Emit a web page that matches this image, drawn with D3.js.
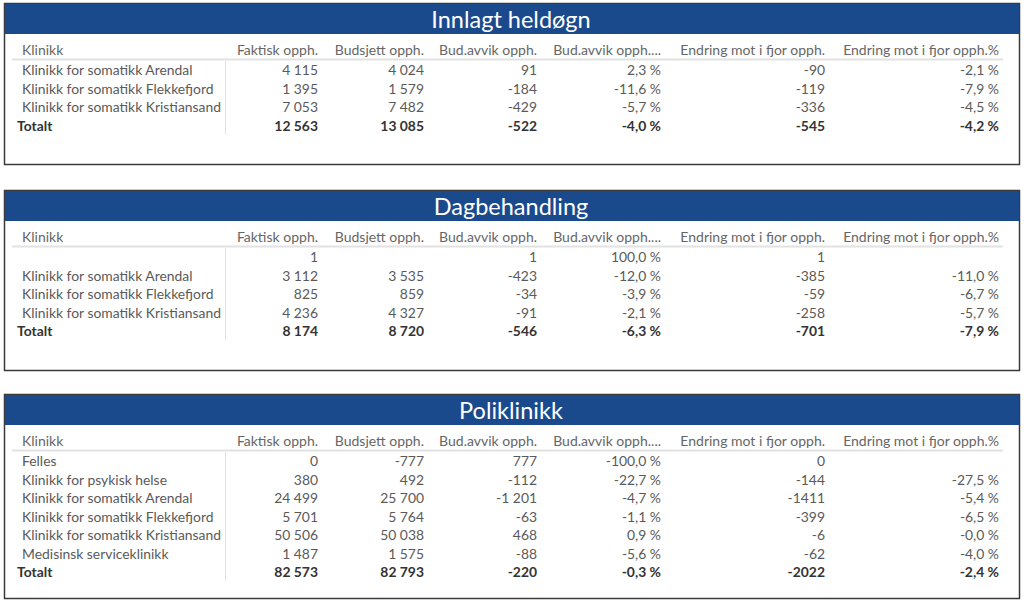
<!DOCTYPE html>
<html>
<head>
<meta charset="utf-8">
<script src="https://cdn.jsdelivr.net/npm/d3@7"></script>
<style>
  body { margin: 0; background: #fff; }
  svg text { font-family: "Segoe UI", Lato, "Noto Sans", sans-serif; }
</style>
</head>
<body>
<div id="viz"></div>
<script>
(function() {

    // Column headers, shared by all three tables
    var columns = ["Klinikk", "Faktisk opph.", "Budsjett opph.", "Bud.avvik opph.",
        "Bud.avvik opph....", "Endring mot i fjor opph.", "Endring mot i fjor opph.%"];

    var panelTitles = ["Innlagt heldøgn", "Dagbehandling", "Poliklinikk"];

    // Innlagt heldøgn
    var names1 = ["Klinikk for somatikk Arendal", "Klinikk for somatikk Flekkefjord", "Klinikk for somatikk Kristiansand", "Totalt"];
    var faktisk1 = [4115, 1395, 7053, 12563];
    var budsjett1 = [4024, 1579, 7482, 13085];
    var avvik1 = [91, -184, -429, -522];
    var avvikPct1 = [2.3, -11.6, -5.7, -4.0];
    var endring1 = [-90, -119, -336, -545];
    var endringPct1 = [-2.1, -7.9, -4.5, -4.2];

    // Dagbehandling
    var names2 = ["", "Klinikk for somatikk Arendal", "Klinikk for somatikk Flekkefjord", "Klinikk for somatikk Kristiansand", "Totalt"];
    var faktisk2 = [1, 3112, 825, 4236, 8174];
    var budsjett2 = [null, 3535, 859, 4327, 8720];
    var avvik2 = [1, -423, -34, -91, -546];
    var avvikPct2 = [100.0, -12.0, -3.9, -2.1, -6.3];
    var endring2 = [1, -385, -59, -258, -701];
    var endringPct2 = [null, -11.0, -6.7, -5.7, -7.9];

    // Poliklinikk
    var names3 = ["Felles", "Klinikk for psykisk helse", "Klinikk for somatikk Arendal", "Klinikk for somatikk Flekkefjord",
        "Klinikk for somatikk Kristiansand", "Medisinsk serviceklinikk", "Totalt"];
    var faktisk3 = [0, 380, 24499, 5701, 50506, 1487, 82573];
    var budsjett3 = [-777, 492, 25700, 5764, 50038, 1575, 82793];
    var avvik3 = [777, -112, -1201, -63, 468, -88, -220];
    var avvikPct3 = [-100.0, -22.7, -4.7, -1.1, 0.9, -5.6, -0.3];
    var endring3 = [0, -144, -1411, -399, -6, -62, -2022];
    var endringPct3 = [null, -27.5, -5.4, -6.5, -0.0, -4.0, -2.4];

    var tables = [
        [names1, faktisk1, budsjett1, avvik1, avvikPct1, endring1, endringPct1],
        [names2, faktisk2, budsjett2, avvik2, avvikPct2, endring2, endringPct2],
        [names3, faktisk3, budsjett3, avvik3, avvikPct3, endring3, endringPct3]
    ];

    var width = 1024;
    var height = 601;

    // Norwegian number style
    var locale = d3.formatLocale({decimal: ",", thousands: "\u00a0", grouping: [3], currency: ["", ""], minus: "-"});
    var fmtInt = locale.format(",d");
    var fmtPlain = locale.format("d");
    var fmtPct = locale.format(".1f");
    //keep the minus on -0,0 %
    function pct(v) {
        var neg = v < 0 || Object.is(v, -0);
        return (neg ? "-" : "") + fmtPct(Math.abs(v)) + " %";
    }
    var formatters = [null, fmtInt, fmtInt, fmtInt, pct, fmtPlain, pct];

    var panelTop = [3, 190, 394];
    var panelBottom = [164, 370, 598];

    // right edge of each numeric column
    var xCol = d3.scaleOrdinal()
        .domain(columns)
        .range([22, 318, 424, 537, 661, 825, 999]);

    var svg = d3.select("#viz")
        .append("svg")
        .attr("width", width)
        .attr("height", height);

    tables.forEach(function(table, p) {
        var top = panelTop[p];
        var g = svg.append("g").attr("transform", "translate(0," + top + ")");
        var nRows = table[0].length;

        // rows placed with a linear scale
        var yRow = d3.scaleLinear().domain([0, 1]).range([72, 90.5]);

        g.append("rect")
            .attr("x", 4.5).attr("y", 0.5)
            .attr("width", 1015).attr("height", panelBottom[p] - top)
            .attr("fill", "#fff")
            .attr("stroke", "#3a3a3a")
            .attr("stroke-width", 1.5);

        g.append("rect")
            .attr("x", 5).attr("y", 1)
            .attr("width", 1014).attr("height", 30)
            .attr("fill", "#1b4a8c");

        g.append("text")
            .attr("x", 511).attr("y", 24.5)
            .attr("text-anchor", "middle")
            .attr("fill", "#fff")
            .attr("font-size", "23.5px")
            .text(panelTitles[p]);

        // column headers
        g.selectAll(".colhead")
            .data(columns)
            .enter().append("text")
            .attr("class", "colhead")
            .attr("x", function(d) { return xCol(d); })
            .attr("y", 52)
            .attr("text-anchor", function(d, i) { return i === 0 ? "start" : "end"; })
            .attr("fill", "#666")
            .attr("font-size", "14px")
            .text(function(d) { return d; });

        g.append("line")
            .attr("x1", 12).attr("x2", 1003)
            .attr("y1", 56.5).attr("y2", 56.5)
            .attr("stroke", "#e2e2e2")
            .attr("stroke-width", 2);

        g.append("line")
            .attr("x1", 225.5).attr("x2", 225.5)
            .attr("y1", 58).attr("y2", yRow(nRows - 1) + 4)
            .attr("stroke", "#e2e2e2")
            .attr("stroke-width", 1);

        var rows = d3.range(nRows).map(function(r) {
            return table.map(function(col) { return col[r]; });
        });

        var rowG = g.selectAll(".row")
            .data(rows)
            .enter().append("g")
            .attr("class", "row")
            .attr("transform", function(d, r) { return "translate(0," + yRow(r) + ")"; });

        rowG.each(function(row, r) {
            var isTotal = row[0] === "Totalt";
            d3.select(this).selectAll("text")
                .data(row)
                .enter().append("text")
                .attr("x", function(d, i) {
                    if (i === 0) return isTotal ? 17 : xCol(columns[0]);
                    return xCol(columns[i]);
                })
                .attr("y", 0)
                .attr("text-anchor", function(d, i) { return i === 0 ? "start" : "end"; })
                .attr("fill", isTotal ? "#333" : "#5a5a5a")
                .attr("font-weight", isTotal ? "bold" : "normal")
                .attr("font-size", "13.9px")
                .text(function(d, i) {
                    if (d === null || d === "") return "";
                    return i === 0 ? d : formatters[i](d);
                });
        });
    });

})();
</script>
</body>
</html>
